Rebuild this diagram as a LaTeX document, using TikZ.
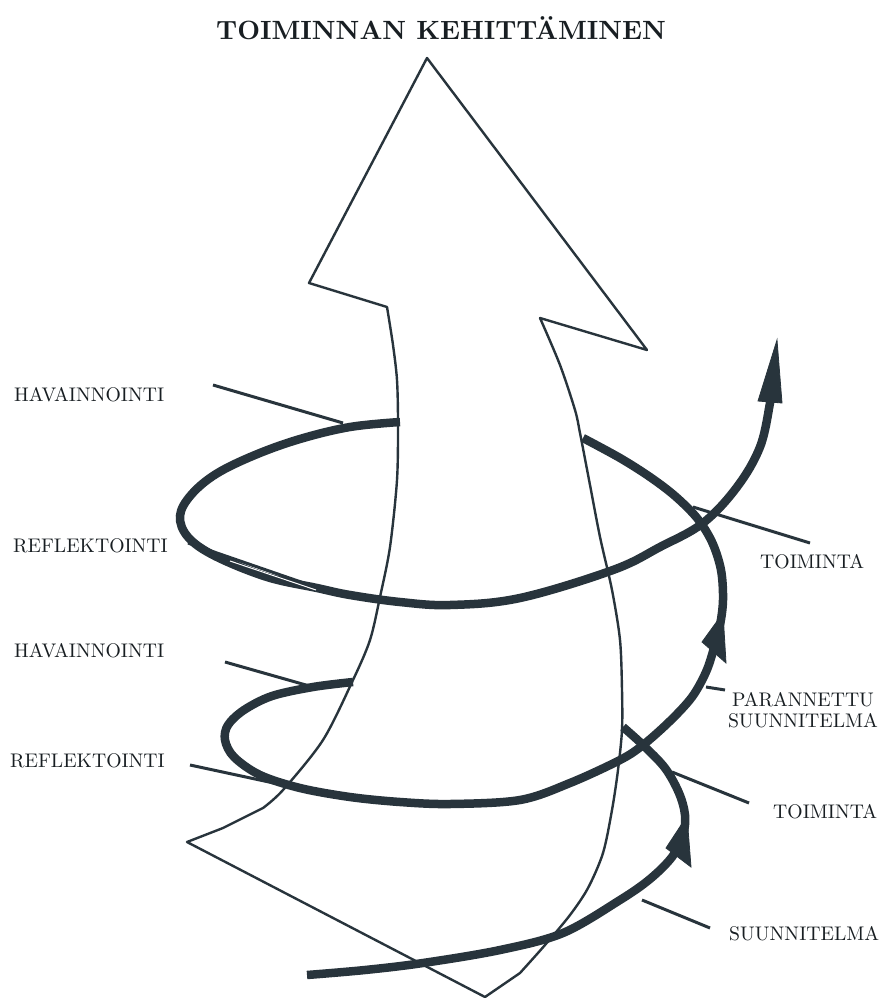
\documentclass[tikz,border=0pt]{standalone}
\usetikzlibrary{calc}
\definecolor{ink}{RGB}{40,52,60}
\definecolor{txt}{RGB}{24,30,34}
\newcommand\lbltext[1]{\scalebox{1.97}{\fontsize{10}{12}\selectfont #1}}
\newcommand\ttltext[1]{\scalebox{2.64}{\fontsize{10}{12}\selectfont\bfseries #1}}
\begin{document}
\begin{tikzpicture}[x=1pt,y=-1pt,
  shaft/.style={draw=ink,line width=2.4pt,line join=round},
  spiral/.style={draw=ink,line width=8.5pt,line cap=butt},
  leader/.style={draw=ink,line width=3pt},
  headfill/.style={fill=ink,draw=ink,line width=0.8pt,line join=miter},
  lbl/.style={text=txt,inner sep=0pt},
  ttl/.style={text=txt,inner sep=0pt}]
\useasboundingbox (0,0) rectangle (881,998);
\fill[white] (0,0) rectangle (881,998);

% title
\node[ttl,anchor=base] (title) at (441,40) {\ttltext{TOIMINNAN KEHITTÄMINEN}};

% big arrow outline
\draw[shaft] (427,58) -- (647,350) -- (540,318)
  -- plot[smooth,tension=0.5] coordinates {(540,318) (560,365) (575,410) (580,433) (590,485) (600,537) (612,590) (620,640) (622,690) (622,730) (618,770) (612,810) (603,853) (588,888) (570,915) (545,945) (520,973)}
  -- (485,997) -- (187,842) -- (223,828) -- (263,808)
  -- plot[smooth,tension=0.5] coordinates {(263,808) (283,790) (323,740) (353,680) (370,640) (380,597) (390,547) (397,480) (398,423) (397,380) (393,345) (387,307)}
  -- (309,283) -- cycle;

% spiral: lower segment
\draw[spiral] plot[smooth,tension=0.55] coordinates {(307,975) (365,970) (423,963) (500,950) (563,933) (620,900) (650,879) (672,857) (683,835) (685,815) (679,793) (665,768) (643,745) (623,727)};
\filldraw[headfill] (666,848) -- (687,816) -- (691,867) -- cycle;

% spiral: middle loop
\draw[spiral] plot[smooth,tension=0.55] coordinates {(353,682) (313,687) (272,696) (244,710) (228,725) (225,740) (234,757) (260,775) (300,788) (350,797) (400,802) (450,804) (520,800) (570,783) (620,760) (643,745) (670,721) (692,697) (706,672) (714,648) (720,625) (723,600) (721,570) (712,542) (697,518) (675,496) (650,477) (620,458) (583,438)};
\filldraw[headfill] (702,642) -- (723,613) -- (726,663) -- cycle;

% spiral: upper loop with final arrow
\draw[spiral] plot[smooth,tension=0.6] coordinates {(400,422) (350,427) (300,439) (255,455) (216,474) (191,495) (180,516) (188,537) (215,556) (267,577) (317,588) (350,595) (400,602) (450,605) (520,598) (613,570) (660,547) (703,523) (737,487) (760,447) (770,403) (771,392)};
\filldraw[headfill] (777,340) -- (758,401) -- (782,403) -- cycle;

% labels
\node[lbl,anchor=base west] (hav1) at (14,401) {\lbltext{HAVAINNOINTI}};
\node[lbl,anchor=base west] (ref1) at (13,552) {\lbltext{REFLEKTOINTI}};
\node[lbl,anchor=base west] (hav2) at (14,657) {\lbltext{HAVAINNOINTI}};
\node[lbl,anchor=base west] (ref2) at (10,767) {\lbltext{REFLEKTOINTI}};
\node[lbl,anchor=base west] (toi1) at (760,568) {\lbltext{TOIMINTA}};
\node[lbl,anchor=base] (par) at (803,706) {\lbltext{PARANNETTU}};
\node[lbl,anchor=base] (suu1) at (803,727) {\lbltext{SUUNNITELMA}};
\node[lbl,anchor=base west] (toi2) at (773,818) {\lbltext{TOIMINTA}};
\node[lbl,anchor=base west] (suu2) at (729,940) {\lbltext{SUUNNITELMA}};

% leader end points
\coordinate (h1a) at (213,385); \coordinate (h1b) at (343,423);
\coordinate (r1a) at (188,543); \coordinate (r1b) at (330,592);
\coordinate (h2a) at (225,662); \coordinate (h2b) at (313,687);
\coordinate (r2a) at (190,765); \coordinate (r2b) at (283,785);
\coordinate (t1a) at (693,507); \coordinate (t1b) at (810,543);
\coordinate (pa) at (706,687);  \coordinate (pb) at (725,690);
\coordinate (t2a) at (672,772); \coordinate (t2b) at (749,803);
\coordinate (sa) at (642,900);  \coordinate (sb) at (710,928);

\draw[leader] (h1a) -- (h1b);
\draw[white,line width=1pt] (230,561) -- (316,590);
\draw[leader] (r1a) -- (r1b);
\draw[leader] (h2a) -- (h2b);
\draw[leader] (r2a) -- (r2b);
\draw[leader] (t1a) -- (t1b);
\draw[leader] (pa) -- (pb);
\draw[leader] (t2a) -- (t2b);
\draw[leader] (sa) -- (sb);
\end{tikzpicture}
\end{document}
